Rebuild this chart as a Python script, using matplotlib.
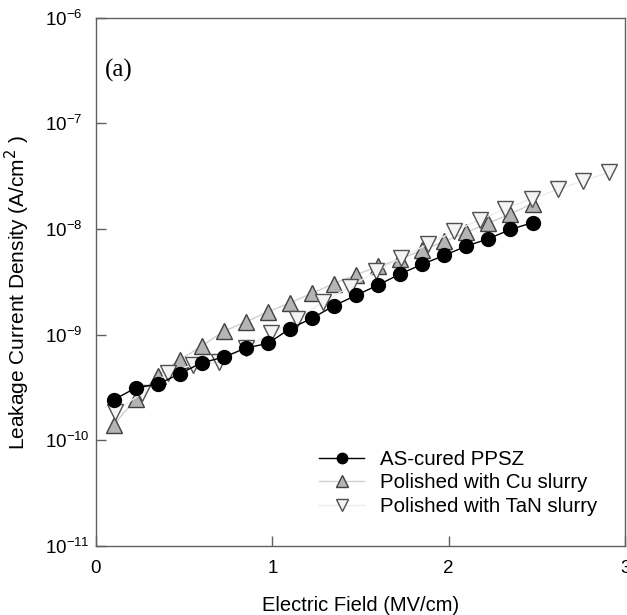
import matplotlib
matplotlib.use("Agg")
import matplotlib.pyplot as plt

plt.rcParams['font.family'] = ['Liberation Sans', 'DejaVu Sans']

# AS-cured PPSZ
x_cured = [0.10, 0.225, 0.35, 0.475, 0.60, 0.725, 0.85, 0.975, 1.10, 1.225,
           1.35, 1.475, 1.60, 1.725, 1.85, 1.975, 2.10, 2.225, 2.35, 2.475]
y_cured = [2.42e-10, 3.13e-10, 3.40e-10, 4.26e-10, 5.43e-10, 6.12e-10, 7.49e-10, 8.26e-10, 1.14e-9, 1.43e-9,
           1.88e-9, 2.36e-9, 2.95e-9, 3.76e-9, 4.64e-9, 5.63e-9, 6.89e-9, 8.09e-9, 9.90e-9, 1.15e-8]

# Polished with Cu slurry
x_cu = [0.10, 0.225, 0.35, 0.475, 0.60, 0.725, 0.85, 0.975, 1.10, 1.225,
        1.35, 1.475, 1.60, 1.725, 1.85, 1.975, 2.10, 2.225, 2.35, 2.475]
y_cu = [1.40e-10, 2.46e-10, 4.09e-10, 5.78e-10, 7.80e-10, 1.08e-9, 1.32e-9, 1.65e-9, 2.00e-9, 2.47e-9,
        3.05e-9, 3.70e-9, 4.42e-9, 5.19e-9, 6.30e-9, 7.65e-9, 9.28e-9, 1.14e-8, 1.39e-8, 1.74e-8]

# Polished with TaN slurry
x_tan = [0.11, 0.26, 0.41, 0.55, 0.70, 0.85, 0.99, 1.14, 1.29, 1.44,
         1.59, 1.73, 1.88, 2.03, 2.18, 2.32, 2.47, 2.62, 2.76, 2.91]
y_tan = [1.87e-10, 2.80e-10, 4.33e-10, 5.21e-10, 5.51e-10, 7.49e-10, 1.03e-9, 1.41e-9, 2.05e-9, 2.84e-9,
         3.98e-9, 5.32e-9, 7.18e-9, 9.51e-9, 1.23e-8, 1.55e-8, 1.94e-8, 2.37e-8, 2.87e-8, 3.43e-8]

xticks = [0, 1, 2, 3]
yticks = [1e-11, 1e-10, 1e-9, 1e-8, 1e-7, 1e-6]
ytick_labels = ["$\\mathdefault{10^{-11}}$", "$\\mathdefault{10^{-10}}$", "$\\mathdefault{10^{-9}}$",
                "$\\mathdefault{10^{-8}}$", "$\\mathdefault{10^{-7}}$", "$\\mathdefault{10^{-6}}$"]

fig = plt.figure(figsize=(6.27, 6.15), dpi=100)
ax = fig.add_axes([0.153, 0.1122, 0.844, 0.859])

ax.plot(x_cured, y_cured, color="black", lw=1, marker="o", ms=10,
        mfc="black", mec="black", label="AS-cured PPSZ", zorder=3)
ax.plot(x_cu, y_cu, color="#d0d0d0", lw=1, marker="^", ms=11,
        mfc="#b4b4b4", mec="#404040", mew=1, label="Polished with Cu slurry", zorder=2)
ax.plot(x_tan, y_tan, color="#ececec", lw=1, marker="v", ms=11,
        mfc="#f4f4f4", mec="#505050", mew=1, label="Polished with TaN slurry", zorder=2)

ax.set_yscale("log")
ax.set_xlim(0, 3)
ax.set_ylim(1e-11, 1e-6)
ax.set_xticks(xticks)
ax.set_yticks(yticks, labels=ytick_labels, ha="left")
ax.minorticks_off()
ax.tick_params(direction="in", length=7, width=1, color="#606060", labelsize=13.5)
ax.tick_params(axis="x", pad=10)
ax.tick_params(axis="y", pad=37)
for s in ax.spines.values():
    s.set_color("#606060")
    s.set_linewidth(1)

ax.set_xlabel("Electric Field (MV/cm)", fontsize=14.5)
ax.xaxis.set_label_coords(0.5, -0.095)
ax.set_ylabel("Leakage Current Density (A/cm$^2$ )", fontsize=15)
ax.yaxis.set_label_coords(-0.12, 0.48)

ax.text(0.016, 0.90, "(a)", transform=ax.transAxes, fontsize=18, va="center",
        family=["Liberation Serif", "DejaVu Serif"])

ax.legend(loc="lower right", bbox_to_anchor=(0.975, 0.03), frameon=False, fontsize=14.7,
          handlelength=2.2, handletextpad=0.8, labelspacing=0.22, borderpad=0.2,
          markerscale=0.75)

fig.savefig("out.png", dpi=100)
